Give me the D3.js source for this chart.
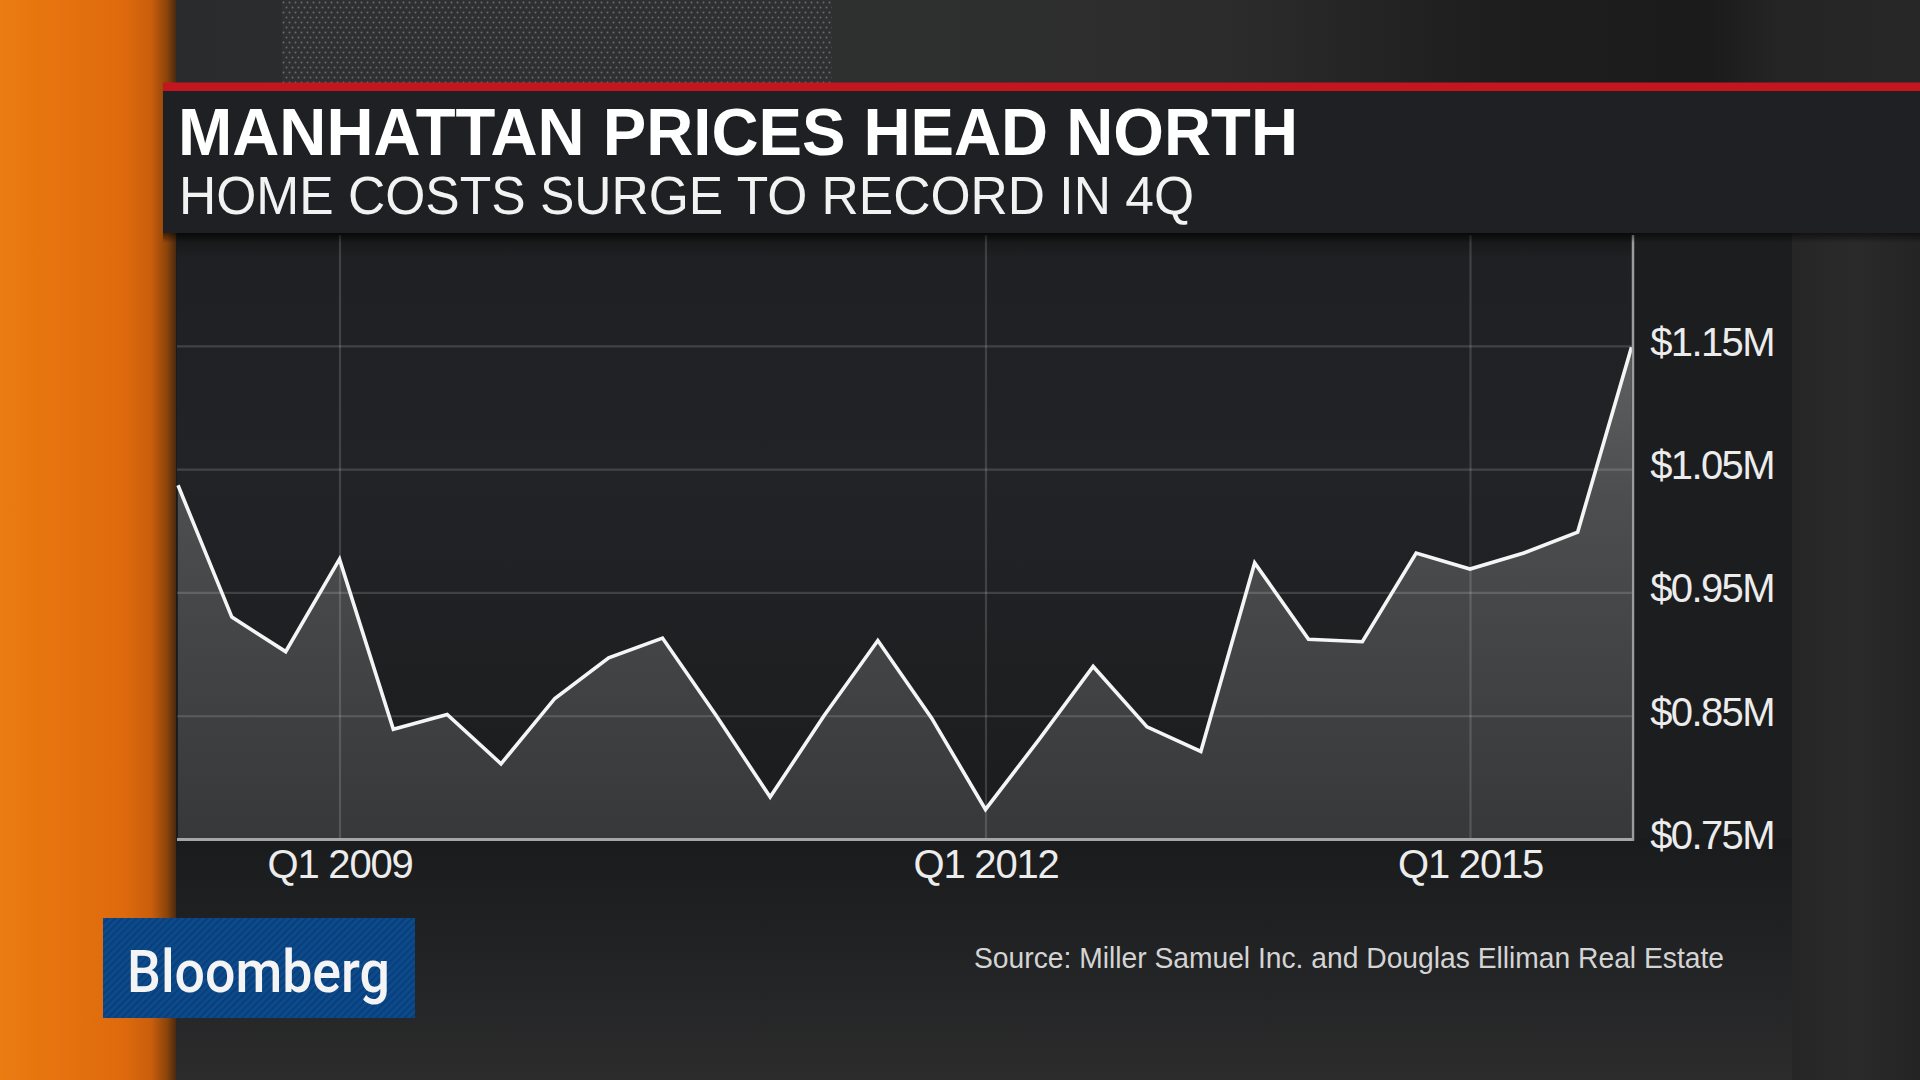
<!DOCTYPE html>
<html><head><meta charset="utf-8">
<script src="https://cdn.jsdelivr.net/npm/d3@7"></script>
<style>
html,body{margin:0;padding:0;background:#1f2022;overflow:hidden}
svg{display:block}
</style></head><body>
<svg id="chart" width="1920" height="1080"></svg>
<script>
// ---- data ----
const values = [1.037,0.930,0.902,0.977,0.839,0.851,0.811,0.864,0.897,0.913,0.850,0.784,0.850,0.911,0.848,0.774,0.831,0.890,0.841,0.821,0.974,0.912,0.910,0.982,0.969,0.982,0.999,1.149];
const xTickLabels = ["Q1 2009","Q1 2012","Q1 2015"];
const xTickIndex = [3,15,24];
const yTicks = [0.75,0.85,0.95,1.05,1.15];
const yDomain = [0.75,1.24];
const titleText = "MANHATTAN PRICES HEAD NORTH";
const subtitleText = "HOME COSTS SURGE TO RECORD IN 4Q";
const sourceText = "Source: Miller Samuel Inc. and Douglas Elliman Real Estate";
const brandText = "Bloomberg";

// ---- layout ----
const W = 1920, H = 1080;
const P = {left:177, right:1633, top:235, bottom:839};
const svg = d3.select("#chart");
const defs = svg.append("defs");
const FONT = "'Liberation Sans', Arial, Helvetica, sans-serif";

function lin(id, x1,y1,x2,y2, stops, user){
  const g = defs.append("linearGradient").attr("id",id)
    .attr("x1",x1).attr("y1",y1).attr("x2",x2).attr("y2",y2);
  if(user) g.attr("gradientUnits","userSpaceOnUse");
  stops.forEach(s=>g.append("stop").attr("offset",s[0]).attr("stop-color",s[1]).attr("stop-opacity",s[2]===undefined?1:s[2]));
  return g;
}
lin("orange",0,0,1,0,[[0,"#ea7c12"],[0.2,"#e8760f"],[0.7,"#de6a0d"],[0.86,"#c95e0c"],[0.95,"#8a430b"],[1,"#4a2a10"]]);
lin("topstrip",175,0,1920,0,[[0,"#2a2b2c"],[0.35,"#2f3030"],[0.6,"#2c2c2c"],[0.75,"#1e1e1e"],[0.88,"#1b1b1b"],[0.92,"#252525"],[1,"#272727"]],true);
lin("lowerbg",0,839,0,1080,[[0,"#1a1b1d"],[0.5,"#222324"],[1,"#2c2c2d"]],true);
lin("plotbg",0,233,0,839,[[0,"#141516"],[0.04,"#1f2023"],[0.4,"#222326"],[1,"#1b1c1e"]],true);
lin("areafill",0,345,0,839,[[0,"#5f6061"],[0.3,"#4d4e4f"],[1,"#37383a"]],true);
lin("shadow",0,0,0,1,[[0,"#000",0.55],[1,"#000",0]]);
lin("rightbg",1792,0,1920,0,[[0,"#262626"],[0.5,"#2a2a2a"],[1,"#242424"]],true);

const dots = defs.append("pattern").attr("id","dots").attr("patternUnits","userSpaceOnUse")
  .attr("width",6).attr("height",10);
dots.append("rect").attr("width",6).attr("height",10).attr("fill","#2f3031");
dots.append("circle").attr("cx",1.5).attr("cy",2.5).attr("r",1).attr("fill","#6a6a6a");
dots.append("circle").attr("cx",4.5).attr("cy",7.5).attr("r",1).attr("fill","#6a6a6a");

const stripes = defs.append("pattern").attr("id","stripes").attr("patternUnits","userSpaceOnUse")
  .attr("width",5).attr("height",5).attr("patternTransform","rotate(45)");
stripes.append("rect").attr("width",5).attr("height",5).attr("fill","#0c4a8c");
stripes.append("rect").attr("width",1.6).attr("height",5).attr("fill","#083c76");

// ---- backdrop ----
svg.append("rect").attr("width",W).attr("height",H).attr("fill","#1f2022");
svg.append("rect").attr("x",175).attr("y",0).attr("width",W-175).attr("height",83).attr("fill","url(#topstrip)");
svg.append("rect").attr("x",282).attr("y",0).attr("width",550).attr("height",83).attr("fill","url(#dots)");
svg.append("rect").attr("x",175).attr("y",233).attr("width",1792-175).attr("height",H-233).attr("fill","url(#lowerbg)");
svg.append("rect").attr("x",1633).attr("y",233).attr("width",1792-1633).attr("height",606).attr("fill","#1c1d1f");
svg.append("rect").attr("x",1792).attr("y",233).attr("width",128).attr("height",H-233).attr("fill","url(#rightbg)");
svg.append("rect").attr("x",0).attr("y",0).attr("width",176).attr("height",H).attr("fill","url(#orange)");

// ---- plot ----
const x = d3.scaleLinear().domain([0, values.length-1]).range([178, 1631.5]);
const y = d3.scaleLinear().domain(yDomain).range([P.bottom, P.top]);

svg.append("rect").attr("x",P.left).attr("y",233).attr("width",P.right-P.left).attr("height",P.bottom-233).attr("fill","url(#plotbg)");

const area = d3.area().x((d,i)=>x(i)).y0(y(yDomain[0])).y1(d=>y(d));
svg.append("path").datum(values).attr("d",area).attr("fill","url(#areafill)");

// grid (drawn over the area, semi-transparent)
const gy = svg.append("g").attr("transform",`translate(${P.right},0)`)
  .call(d3.axisRight(y).tickValues(yTicks.slice(1)).tickSize(-(P.right-P.left)).tickFormat(""));
gy.select(".domain").remove();
gy.selectAll("line").attr("stroke","#fff").attr("stroke-opacity",0.15).attr("stroke-width",2.2);

const gx = svg.append("g").attr("transform",`translate(0,${P.bottom})`)
  .call(d3.axisBottom(x).tickValues(xTickIndex).tickSize(-(P.bottom-P.top)).tickFormat(""));
gx.select(".domain").remove();
gx.selectAll("line").attr("stroke","#fff").attr("stroke-opacity",0.15).attr("stroke-width",2.2);

const line = d3.line().x((d,i)=>x(i)).y(d=>y(d));
svg.append("path").datum(values).attr("d",line).attr("fill","none")
  .attr("stroke","#f5f5f5").attr("stroke-width",3.6).attr("stroke-linejoin","miter");

// axis lines
svg.append("line").attr("x1",P.left).attr("x2",P.right+1).attr("y1",y(yDomain[0])+0.5).attr("y2",y(yDomain[0])+0.5)
  .attr("stroke","#a6a6a6").attr("stroke-width",3);
svg.append("line").attr("x1",P.right).attr("x2",P.right).attr("y1",P.top).attr("y2",P.bottom+2)
  .attr("stroke","#9c9c9c").attr("stroke-width",2.5);

// y labels
const ya = svg.append("g").attr("transform",`translate(${P.right},0)`)
  .call(d3.axisRight(y).tickValues(yTicks).tickSize(0).tickFormat(d=>"$"+d.toFixed(2)+"M"));
ya.select(".domain").remove();
ya.selectAll("text").attr("x",141).attr("dy",null).attr("y",9.5)
  .attr("text-anchor","end").attr("fill","#ececec")
  .style("font-family",FONT).style("font-size","40px").style("letter-spacing","-1.6px");

// x labels
const xa = svg.append("g").attr("transform",`translate(0,${P.bottom})`)
  .call(d3.axisBottom(x).tickValues(xTickIndex).tickSize(0).tickFormat((d,i)=>xTickLabels[i]));
xa.select(".domain").remove();
xa.selectAll("text").attr("y",39).attr("dy",null).attr("fill","#ececec")
  .style("font-family",FONT).style("font-size","40px").style("letter-spacing","-1.2px");

// ---- title panel ----
svg.append("rect").attr("x",163).attr("y",233).attr("width",W-163).attr("height",10).attr("fill","url(#shadow)");
svg.append("rect").attr("x",163).attr("y",90.5).attr("width",W-163).attr("height",142.5).attr("fill","#1f2023");
svg.append("rect").attr("x",163).attr("y",82.5).attr("width",W-163).attr("height",8.5).attr("fill","#c3161f");

svg.append("text").attr("x",178).attr("y",154.5).text(titleText)
  .attr("fill","#ffffff").attr("textLength",1120).attr("lengthAdjust","spacingAndGlyphs")
  .style("font-family",FONT).style("font-weight","700").style("font-size","67px");
svg.append("text").attr("x",179).attr("y",213.5).text(subtitleText)
  .attr("fill","#f2f2f2").attr("textLength",1015).attr("lengthAdjust","spacingAndGlyphs")
  .style("font-family",FONT).style("font-weight","400").style("font-size","53px");

// ---- source ----
svg.append("text").attr("x",974).attr("y",968).text(sourceText)
  .attr("fill","#d4d4d4").attr("textLength",750).attr("lengthAdjust","spacingAndGlyphs")
  .style("font-family",FONT).style("font-size","30px");

// ---- logo ----
svg.append("rect").attr("x",103).attr("y",918).attr("width",312).attr("height",100).attr("fill","url(#stripes)");
svg.append("text").attr("x",127).attr("y",992).text(brandText)
  .attr("fill","#f4f4f4").attr("textLength",263).attr("lengthAdjust","spacingAndGlyphs")
  .style("font-family","Roboto, 'Liberation Sans', Arial, sans-serif").style("font-weight","500").style("font-size","60px");
</script>
</body></html>
